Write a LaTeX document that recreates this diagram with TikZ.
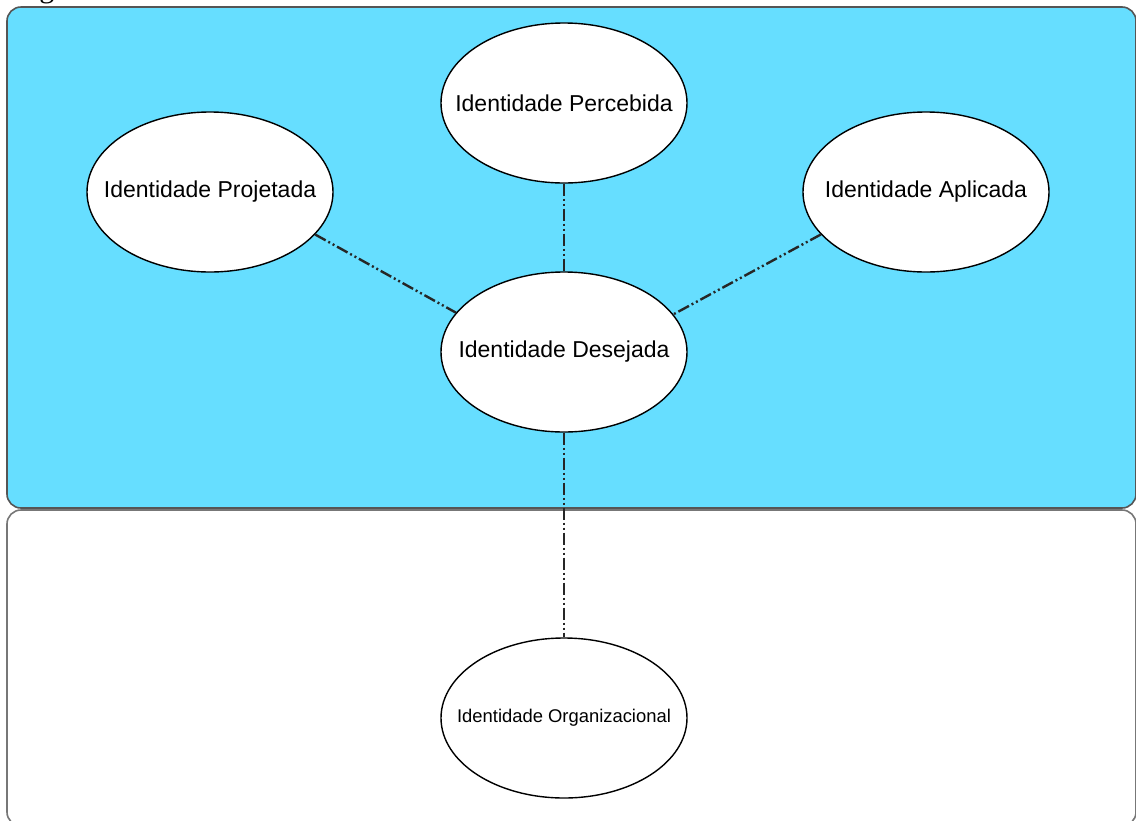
\documentclass[tikz,border=0pt]{standalone}
\usepackage{fontspec}
\setmainfont{Liberation Sans}
\newfontfamily\capfont{Liberation Serif}
\usetikzlibrary{shapes.geometric}
\definecolor{skyfill}{HTML}{66DEFF}
\definecolor{frameline}{HTML}{555555}
\newcommand{\zw}[1]{\makebox[0pt][c]{#1}}
\tikzset{
  idnode/.style={ellipse, draw=black, line width=0.7pt, fill=white,
    minimum width=123pt, minimum height=80pt, inner sep=0pt,
    font=\fontsize{11.5}{13}\selectfont},
  smallid/.style={idnode, font=\fontsize{9.2}{11}\selectfont},
  link/.style={line width=1.2pt, draw=black!85,
    dash pattern=on 6pt off 1.5pt on 1pt off 1.5pt on 1pt off 1.5pt},
  panel/.style={draw=frameline, line width=0.8pt, rounded corners=7pt}
}
\begin{document}
\begin{tikzpicture}[x=0.5pt,y=-0.5pt]
\useasboundingbox (0,0) rectangle (1136,820);
\fill[white] (0,0) rectangle (1136,820);
% partially visible caption glyph
\node[font=\capfont\fontsize{15}{16}\selectfont, anchor=base, inner sep=0pt] (capg) at (47,-3) {g};
% panels
\draw[panel, fill=skyfill] (7,7) rectangle (1136,508);
\draw[panel, draw=frameline!80, fill=white] (7,510) rectangle (1136,826);
% nodes
\node[idnode] (perc) at (564,103) {\zw{Identidade Percebida}};
\node[idnode] (proj) at (210,192) {\zw{Identidade Projetada}};
\node[idnode] (apli) at (926,192) {\zw{Identidade Aplicada}};
\node[idnode] (dese) at (564,352) {\zw{Identidade Desejada}};
\node[smallid] (orga) at (564,718) {\zw{Identidade Organizacional}};
% connectors
\draw[link] (perc.south) -- (dese.north);
\draw[link] (proj.-22) -- (dese.160.6);
\draw[link] (apli.-158) -- (dese.19.4);
\draw[link] (dese.south) -- (orga.north);
\end{tikzpicture}
\end{document}
